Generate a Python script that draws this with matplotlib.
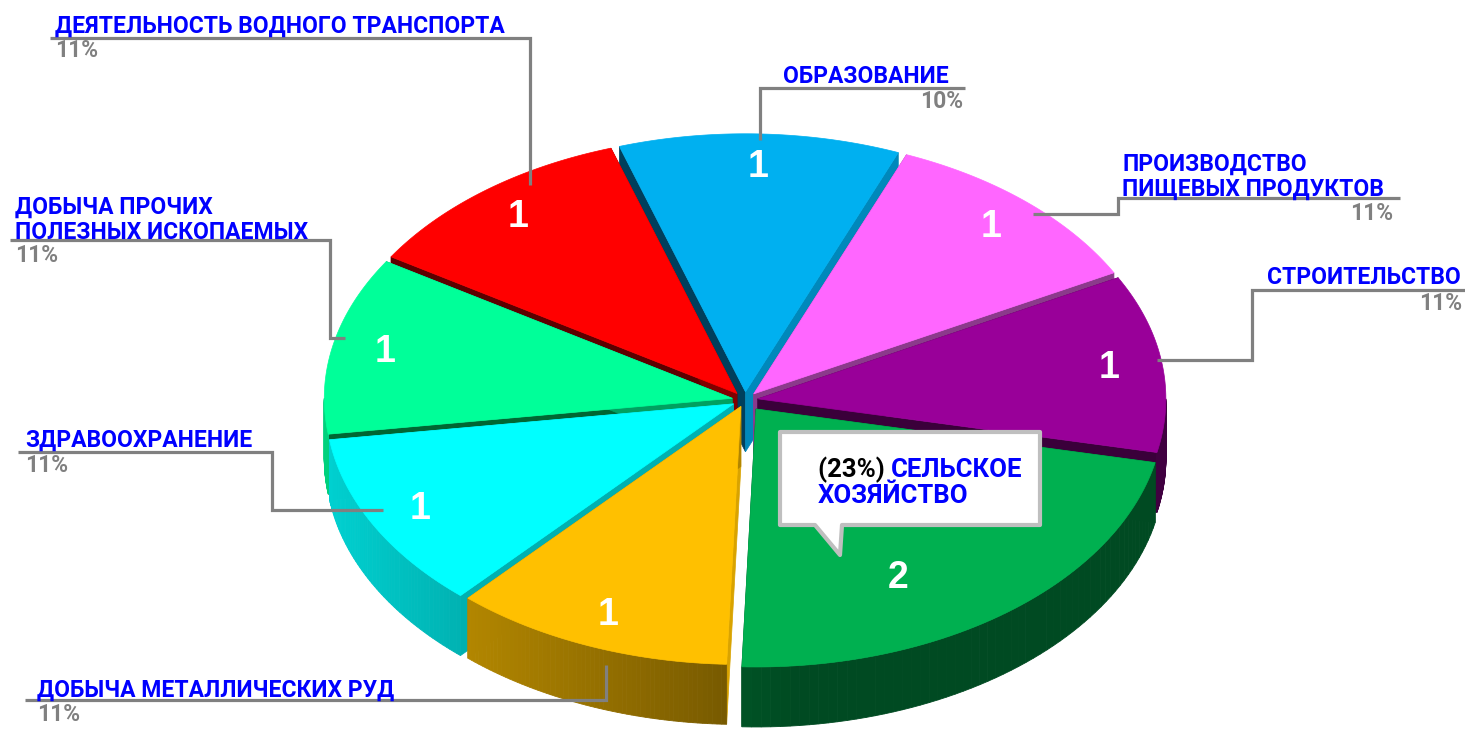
import numpy as np
import matplotlib
matplotlib.use("Agg")
import matplotlib.pyplot as plt
from matplotlib.patches import Polygon
from matplotlib.colors import to_rgb

# ── Data ──────────────────────────────────────────────────────────────────
categories = [
    "ОБРАЗОВАНИЕ",
    "ПРОИЗВОДСТВО\nПИЩЕВЫХ ПРОДУКТОВ",
    "СТРОИТЕЛЬСТВО",
    "СЕЛЬСКОЕ\nХОЗЯЙСТВО",
    "ДОБЫЧА МЕТАЛЛИЧЕСКИХ РУД",
    "ЗДРАВООХРАНЕНИЕ",
    "ДОБЫЧА ПРОЧИХ\nПОЛЕЗНЫХ ИСКОПАЕМЫХ",
    "ДЕЯТЕЛЬНОСТЬ ВОДНОГО ТРАНСПОРТА",
]
values = [1, 1, 1, 2, 1, 1, 1, 1]
percents = ["10%", "11%", "11%", "23%", "11%", "11%", "11%", "11%"]

# ── Style ─────────────────────────────────────────────────────────────────
top_colors = ["#00B0F0", "#FF66FF", "#990099", "#00B050",
              "#FFC000", "#00FFFF", "#00FF99", "#FF0000"]
edge_start = ["#003F5C", "#993D99", "#4A004A", "#004A22",
              "#D9A300", "#00B0B0", "#006633", "#5C0000"]
edge_end = ["#0088BB", "#8B3A8B", "#3A003A", "#004A22",
            "#B08400", "#00B0B0", "#00A060", "#800000"]
explode = [13, 13, 13, 18, 11, 13, 13, 13]

BLUE = "#0000FF"
GREY = "#808080"
LABEL_FONT = dict(family=["Roboto", "DejaVu Sans"], fontstretch="condensed",
                  fontweight="bold", fontsize=16.5)
CALLOUT_FONT = dict(LABEL_FONT, fontsize=18.5)

CX, CY, RX, RY, DEPTH = 745, 400, 408, 258, 60
START = -18  # degrees clockwise from 12 o'clock

# label layout: (text x, first baseline, text ha, pct x, pct baseline, pct ha, leader path)
layout = [
    (783, 83, "left", 963, 108, "right",
     [(760, 140), (760, 88), (965, 88)]),
    (1122, 171, "left", 1393, 220, "right",
     [(1033, 214), (1118, 214), (1118, 198), (1400, 198)]),
    (1267, 284, "left", 1462, 310, "right",
     [(1157, 360), (1252, 360), (1252, 290), (1465, 290)]),
    None,
    (37, 697, "left", 37, 721, "left",
     [(25, 700), (606, 700), (606, 665)]),
    (25, 447, "left", 25, 472, "left",
     [(18, 452), (272, 452), (272, 510), (383, 510)]),
    (15, 214, "left", 15, 262, "left",
     [(10, 240), (330, 240), (330, 338), (345, 338)]),
    (55, 33, "left", 55, 57, "left",
     [(50, 38), (530, 38), (530, 185)]),
]


def pt(t, ox=0.0, oy=0.0, r=1.0, dz=0.0):
    a = np.radians(t)
    return (CX + ox + r * RX * np.sin(a),
            CY + oy - r * RY * np.cos(a) + dz)


def shade(color, f):
    return tuple(min(1, c * f) for c in to_rgb(color))


fig = plt.figure(figsize=(14.65, 7.29), dpi=100)
ax = fig.add_axes([0, 0, 1, 1])
ax.set_xlim(0, 1465)
ax.set_ylim(729, 0)
ax.axis("off")

total = sum(values)
bounds = START + 360 * np.concatenate([[0], np.cumsum(values)]) / total
slices = []
for i, v in enumerate(values):
    t1, t2 = bounds[i], bounds[i + 1]
    mid = (t1 + t2) / 2
    ox = explode[i] * np.sin(np.radians(mid))
    oy = -explode[i] * np.cos(np.radians(mid)) * RY / RX
    slices.append((i, t1, t2, mid, ox, oy))

# back to front
order = sorted(slices, key=lambda s: -np.cos(np.radians(s[3])))

# ── Walls ─────────────────────────────────────────────────────────────────
for i, t1, t2, mid, ox, oy in order:
    apex = (CX + ox, CY + oy)
    apex_d = (CX + ox, CY + oy + DEPTH)
    for t, col in ((t1, edge_start[i]), (t2, edge_end[i])):
        rim = pt(t, ox, oy)
        rim_d = pt(t, ox, oy, dz=DEPTH)
        ax.add_patch(Polygon([apex, rim, rim_d, apex_d], closed=True,
                             facecolor=col, edgecolor=col, lw=0.5))
    a, b = max(t1, 90), min(t2, 270)
    if b > a:
        ts = np.linspace(a, b, 60)
        for ta, tb in zip(ts[:-1], ts[1:]):
            u = np.sin(np.radians((ta + tb) / 2))
            f = max(0.42, 0.82 - 0.364 * (u + 1))
            c = shade(top_colors[i], f)
            quad = [pt(ta, ox, oy), pt(tb, ox, oy),
                    pt(tb, ox, oy, dz=DEPTH), pt(ta, ox, oy, dz=DEPTH)]
            ax.add_patch(Polygon(quad, closed=True, facecolor=c,
                                 edgecolor=c, lw=0.6))

# ── Tops ──────────────────────────────────────────────────────────────────
for i, t1, t2, mid, ox, oy in order:
    ts = np.linspace(t1, t2, 80)
    xs, ys = pt(ts, ox, oy)
    poly = [(CX + ox, CY + oy)] + list(zip(xs, ys))
    ax.add_patch(Polygon(poly, closed=True, facecolor=top_colors[i],
                         edgecolor=top_colors[i], lw=0.5))

# value labels
for i, t1, t2, mid, ox, oy in slices:
    if values[i] > 1:
        x, y = pt(mid + 10, ox, oy, r=0.74)
    else:
        x, y = pt(mid, ox, oy, r=0.87)
    ax.text(x, y, str(values[i]), color="white", fontsize=27,
            fontweight="bold", family=["Liberation Sans", "DejaVu Sans"],
            ha="center", va="center")

# ── Category labels with leader lines ─────────────────────────────────────
for i, lay in enumerate(layout):
    if lay is None:
        continue
    lx, ly, lha, px, py, pha, path = lay
    xs, ys = zip(*path)
    ax.plot(xs, ys, color=GREY, lw=2.3, solid_joinstyle="miter",
            solid_capstyle="butt")
    for k, line in enumerate(categories[i].split("\n")):
        ax.text(lx, ly + 25 * k, line, color=BLUE, ha=lha, va="baseline",
                **LABEL_FONT)
    ax.text(px, py, percents[i], color=GREY, ha=pha, va="baseline",
            **LABEL_FONT)

# ── Callout for agriculture ───────────────────────────────────────────────
box = [(780, 432), (1040, 432), (1040, 525), (842, 525), (840, 555),
       (815, 525), (780, 525)]
ax.add_patch(Polygon(box, closed=True, facecolor="white",
                     edgecolor="#BFBFBF", lw=3, joinstyle="round"))
agri = categories[3].split("\n")
t = ax.text(818, 477, f"({percents[3]}) ", color="black", va="baseline",
            **CALLOUT_FONT)
fig.canvas.draw()
bb = t.get_window_extent().transformed(ax.transData.inverted())
ax.text(bb.x1, 477, agri[0], color=BLUE, va="baseline", **CALLOUT_FONT)
ax.text(818, 503, agri[1], color=BLUE, va="baseline", **CALLOUT_FONT)

fig.savefig("out.png", dpi=100)
